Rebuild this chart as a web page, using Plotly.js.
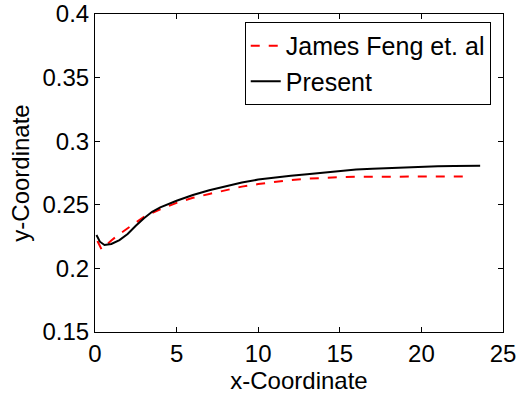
<!DOCTYPE html>
<html>
<head>
<meta charset="utf-8">
<script src="https://cdn.plot.ly/plotly-3.0.1.min.js"></script>
<style>html,body{margin:0;padding:0;background:#fff;}#chart{width:519px;height:399px;}</style>
</head>
<body>
<div id="chart"></div>
<script>
const fengX = [0.15, 0.4, 0.7, 1.0, 1.5, 2.0, 2.5, 3.0, 3.5, 4.0, 5.0, 6.0, 7.0, 8.0, 9.0, 10.0, 11.0, 12.0, 13.0, 14.0, 15.0, 16.0, 17.0, 18.0, 20.0, 22.0, 22.8];
const fengY = [0.2215, 0.2150, 0.2185, 0.2220, 0.2270, 0.2315, 0.2365, 0.2405, 0.2435, 0.2465, 0.2515, 0.2555, 0.2585, 0.2615, 0.2643, 0.2663, 0.2680, 0.2695, 0.2705, 0.2713, 0.2718, 0.2721, 0.2722, 0.2722, 0.2722, 0.2722, 0.2722];
const presentX = [0.09, 0.3, 0.58, 1.0, 1.5, 2.0, 2.5, 3.0, 3.5, 4.0, 5.0, 6.0, 7.0, 8.0, 9.0, 10.0, 11.0, 12.0, 13.0, 14.0, 15.0, 16.0, 17.0, 18.0, 19.0, 20.0, 21.0, 22.0, 23.0, 23.6];
const presentY = [0.2263, 0.2210, 0.2184, 0.2192, 0.2222, 0.2270, 0.2335, 0.2395, 0.2445, 0.2480, 0.2532, 0.2577, 0.2615, 0.2648, 0.2675, 0.2698, 0.2715, 0.2728, 0.2740, 0.2752, 0.2768, 0.2778, 0.2784, 0.2790, 0.2796, 0.2801, 0.2804, 0.2806, 0.2807, 0.2807];
const seriesNames = ["James Feng et. al", "Present"];
const xTicks = [0, 5, 10, 15, 20, 25];
const yTicks = [0.15, 0.2, 0.25, 0.3, 0.35, 0.4];
const yTickText = ["0.15", "0.2", "0.25", "0.3", "0.35", "0.4"];

const font = {family: "Liberation Sans, Arial, sans-serif", size: 24, color: "#000"};
const legendFont = {family: "Liberation Sans, Arial, sans-serif", size: 25, color: "#000"};
const traces = [
  {x: fengX, y: fengY, name: seriesNames[0], mode: "lines", line: {color: "#ff0000", width: 2, dash: "dash"}},
  {x: presentX, y: presentY, name: seriesNames[1], mode: "lines", line: {color: "#000000", width: 2}}
];
const axisCommon = {
  showgrid: false, zeroline: false, showline: true, linecolor: "#000", linewidth: 1,
  mirror: "ticks", ticks: "inside", ticklen: 5, tickcolor: "#000", tickwidth: 1,
  tickfont: font
};
const layout = {
  width: 519, height: 399,
  margin: {l: 95, r: 16, t: 14, b: 67},
  paper_bgcolor: "#fff", plot_bgcolor: "#fff",
  font: font,
  xaxis: Object.assign({}, axisCommon, {range: [0, 25], tickvals: xTicks, ticktext: xTicks.map(String),
    title: {text: "x-Coordinate", font: font, standoff: 2}}),
  yaxis: Object.assign({}, axisCommon, {range: [0.15, 0.4], tickvals: yTicks, ticktext: yTickText,
    title: {text: "y-Coordinate", font: font, standoff: 6}}),
  showlegend: true,
  legend: {x: 0.367, y: 0.975, xanchor: "left", yanchor: "top", bgcolor: "#fff",
    bordercolor: "#000", borderwidth: 1, font: legendFont, tracegroupgap: 0}
};
Plotly.newPlot("chart", traces, layout, {staticPlot: true, displayModeBar: false});
</script>
</body>
</html>
